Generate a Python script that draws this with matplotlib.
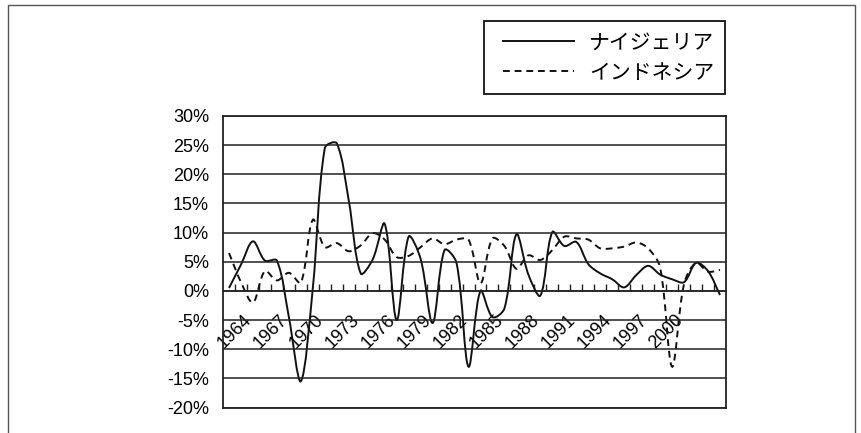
import matplotlib
matplotlib.use("Agg")
import matplotlib.pyplot as plt
import numpy as np
from matplotlib.path import Path
from matplotlib.patches import PathPatch, Rectangle
from matplotlib.lines import Line2D
from matplotlib.legend_handler import HandlerLine2D

years = list(range(1964, 2006))
nigeria = [0.5, 4.5, 8.5, 5.2, 5.2, -4.5, -15.5, 0.5, 24.5, 25.3,
           15.5, 3.0, 5.4, 11.5, -5.0, 9.3, 5.5, -5.5, 7.0, 4.8,
           -13.0, 0.0, -4.5, -3.0, 9.7, 2.8, -0.8, 10.1, 7.7, 8.4,
           4.6, 3.0, 2.0, 0.6, 2.7, 4.3, 2.8, 2.0, 1.5, 4.8,
           3.4, -0.7]
indonesia = [6.5, 1.5, -2.0, 3.4, 1.8, 3.1, 1.4, 12.2, 7.5, 8.2,
             6.8, 7.8, 9.9, 8.8, 5.8, 6.0, 7.5, 9.0, 8.0, 8.8,
             8.8, 1.3, 9.0, 7.7, 3.8, 6.1, 5.3, 7.0, 9.3, 9.0,
             8.8, 7.3, 7.3, 7.6, 8.3, 7.3, 4.0, -13.0, 1.2, 4.8,
             3.3, 3.6]
series_names = ["ナイジェリア", "インドネシア"]
label_years = list(range(1964, 2001, 3))
y_ticks = [-20, -15, -10, -5, 0, 5, 10, 15, 20, 25, 30]
y_labels = ["-20%", "-15%", "-10%", "-5%", "0%", "5%", "10%", "15%", "20%", "25%", "30%"]

plt.rcParams['font.family'] = ['Liberation Sans', 'DejaVu Sans']


def smooth_path(ax, xs, ys):
  # smoothed line like excel: bezier arms scaled by the screen length of the segments
  n = len(xs)
  p = np.column_stack([xs, ys]).astype(float)
  seg = np.hypot(*np.diff(ax.transData.transform(p), axis=0).T)
  verts = [tuple(p[0])]
  codes = [Path.MOVETO]
  for i in range(n - 1):
    a = max(i - 1, 0)
    d = min(i + 2, n - 1)
    before = seg[i - 1] if i > 0 else 0
    after = seg[i + 1] if i < n - 2 else 0
    w1 = seg[i] / (before + seg[i]) / 3 if before + seg[i] > 0 else 0
    w2 = seg[i] / (seg[i] + after) / 3 if seg[i] + after > 0 else 0
    c1 = p[i] + (p[i + 1] - p[a]) * w1
    c2 = p[i + 1] - (p[d] - p[i]) * w2
    verts += [tuple(c1), tuple(c2), tuple(p[i + 1])]
    codes += [Path.CURVE4] * 3
  return Path(verts, codes)


fig = plt.figure(figsize=(8.61, 4.33), dpi=100)
ax = fig.add_axes([223 / 861, 1 - 407.5 / 433, 503 / 861, 291.5 / 433])

x = list(range(len(years)))
ax.set_xlim(-0.5, len(years) - 0.5)
ax.set_ylim(-20, 30)

ax.set_yticks(y_ticks)
ax.set_yticklabels(y_labels, fontsize=13)
ax.tick_params(axis='y', length=0, pad=10)
ax.set_xticks([])
ax.grid(axis='y', color='#222222', lw=1.1)
for sp in ax.spines.values():
  sp.set_color('#222222')
  sp.set_linewidth(1.3)

# category axis crossing at 0%
sec = ax.secondary_xaxis(0.4)
sec.xaxis.remove_overlapping_locs = False
sec.set_xticks([years.index(y) + 0.5 for y in label_years], labels=[str(y) for y in label_years])
sec.set_xticks([i + 0.5 for i in range(len(years) - 1)], minor=True)
sec.tick_params(which='major', length=0, pad=15, labelsize=13, labelrotation=45)
sec.tick_params(which='minor', direction='in', length=5, width=1, color='#222222')
sec.spines['bottom'].set_color('#222222')
sec.spines['bottom'].set_linewidth(1.1)

dash = (0, (3.5, 2.5))
ax.add_patch(PathPatch(smooth_path(ax, x, nigeria), fill=False, ec='#111111', lw=1.4))
ax.add_patch(PathPatch(smooth_path(ax, x, indonesia), fill=False, ec='#111111', lw=1.4, ls=dash))

handles = [Line2D([], [], color='#111111', lw=1.4),
           Line2D([], [], color='#111111', lw=1.4, ls=dash)]
leg = fig.legend(handles, series_names, loc='upper right',
                 bbox_to_anchor=(725 / 861, 1 - 21 / 433), borderaxespad=0,
                 prop={'family': ['Noto Sans CJK JP', 'DejaVu Sans'], 'size': 15},
                 fancybox=False, edgecolor='#111111', framealpha=1,
                 handlelength=3.8, handletextpad=0.75, borderpad=0.5, labelspacing=0.4,
                 handler_map={Line2D: HandlerLine2D(xpad=0.4)})
leg.get_frame().set_linewidth(1.3)

fig.add_artist(Rectangle((8 / 861, -0.1), 847 / 861, 1.1 - 5 / 433, transform=fig.transFigure,
                         fill=False, ec='#555555', lw=1))

plt.savefig("out.png", dpi=100)
